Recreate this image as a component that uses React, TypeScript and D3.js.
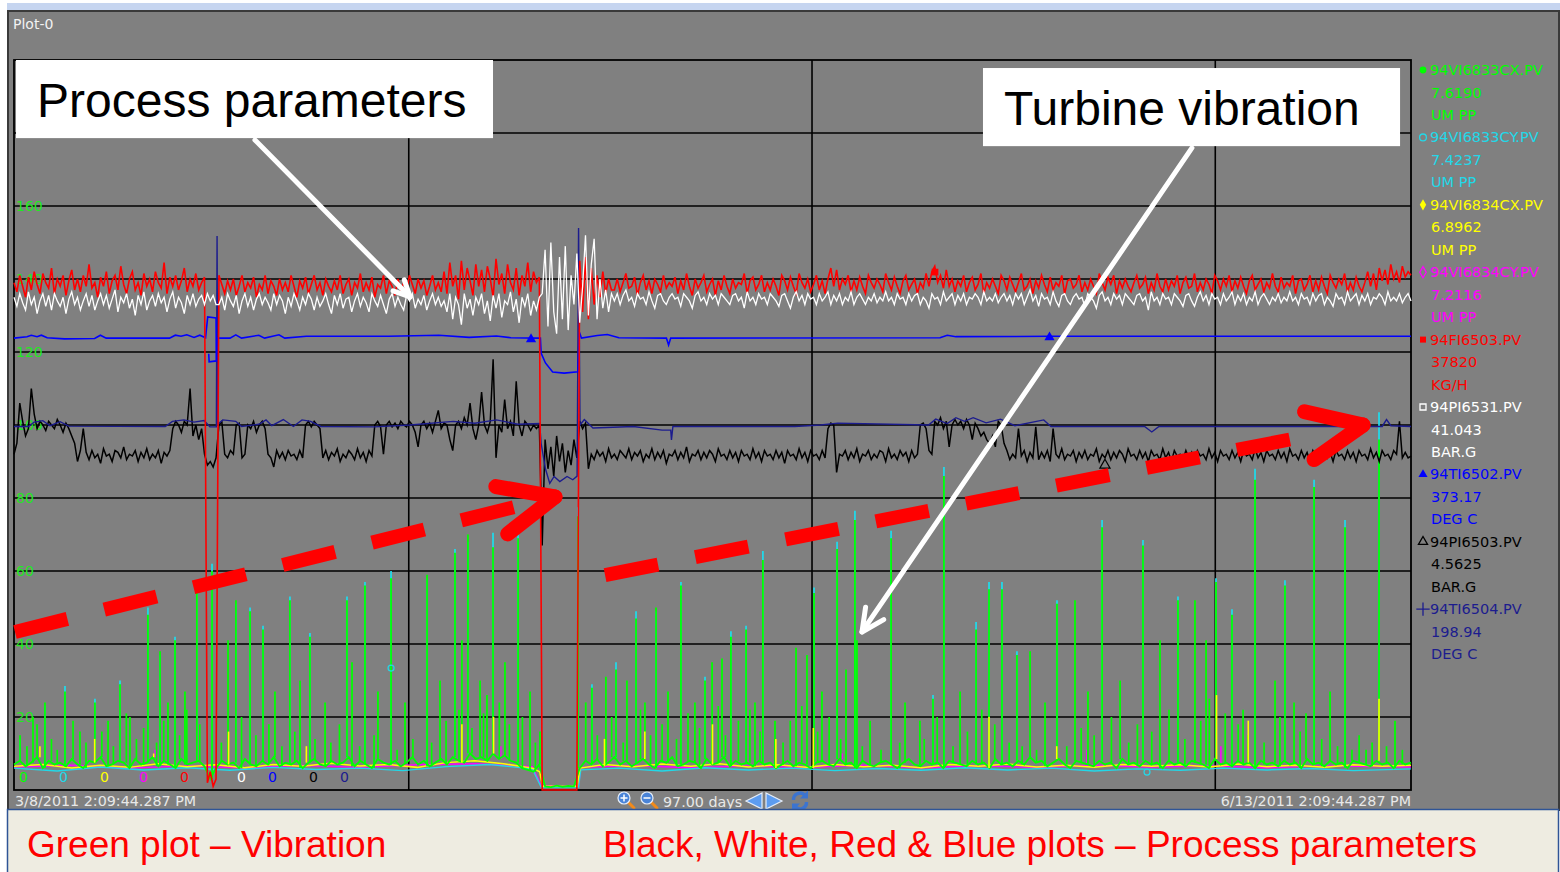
import React from 'react';
import * as d3 from 'd3';

// trend window (97 days)
const startTime = Date.UTC(2011, 2, 8, 14, 9, 44, 287);
const endTime = Date.UTC(2011, 5, 13, 14, 9, 44, 287);
const DAY_MS = 864e5;
const spanDays = (endTime - startTime) / DAY_MS;

const gridDates = [Date.UTC(2011, 3, 5), Date.UTC(2011, 4, 3), Date.UTC(2011, 4, 31)];
const yTicks = [20, 40, 60, 80, 100, 120, 140, 160, 180];

// legend
const tagNames = ['94VI6833CX.PV', '94VI6833CY.PV', '94VI6834CX.PV', '94VI6834CY.PV', '94FI6503.PV', '94PI6531.PV', '94TI6502.PV', '94PI6503.PV', '94TI6504.PV'];
const tagValues = ['7.6190', '7.4237', '6.8962', '7.2116', '37820', '41.043', '373.17', '4.5625', '198.94'];
const tagUnits = ['UM PP', 'UM PP', 'UM PP', 'UM PP', 'KG/H', 'BAR.G', 'DEG C', 'BAR.G', 'DEG C'];
const tagMins = ['0', '0', '0', '0', '0', '0', '0', '0', '0'];

// process parameters, evenly sampled over the window (axis units)
const flow = [
  139, 136.5, 141, 138, 135, 140.5, 137, 142, 138.5, 136, 141.5, 139, 137.5, 143, 136, 140, 138, 141, 135.5, 139.5,
  142.5, 137, 140, 136.5, 141, 138, 144, 137.5, 139, 135, 140.5, 138, 142, 136, 139.5, 141, 137, 143.5, 138.5, 136,
  140, 142, 137, 139, 135.5, 141.5, 138, 140, 136.5, 142, 139, 137.5, 144.5, 136, 140.5, 138, 141, 137, 139.5, 143,
  136.5, 140, 138, 141.5, 137, 139, 140.5,
  2, 5, 1, 3,
  141, 138.5, 136, 139.5, 137, 140, 135.5, 138, 141, 136.5, 139, 137.5, 140.5, 135, 138.5, 137, 141, 136, 139.5, 138,
  135.5, 140, 137, 139, 136.5, 141, 138, 135, 139.5, 137.5, 140.5, 136, 138.5, 141, 137, 139, 135.5, 140, 138, 136.5,
  139.5, 137, 141, 136, 138.5, 140, 135.5, 139, 137.5, 141.5, 136.5, 139, 137, 140.5, 135, 138.5, 137.5, 141, 136, 139.5,
  138, 135.5, 140, 137, 139, 136.5, 141, 138.5, 136, 140, 137.5, 139.5, 135.5, 138, 141, 137, 139, 136.5,
  142, 136, 144.5, 138, 141, 134.5, 145, 137, 143, 139.5, 135.5, 144, 138, 142.5, 136.5, 143.5, 140, 135, 145.5, 138.5,
  141.5, 136, 144, 139, 137, 143, 135.5, 141, 138, 144.5, 136.5, 142, 139, 140.5,
  0, 0, 0, 0, 0, 0, 0, 0, 0, 0, 0, 0, 0,
  145, 131, 146, 129, 143, 133, 141, 135, 142, 136, 140, 137,
  137, 140, 136.5, 139, 141.5, 137.5, 138, 140.5, 135.5, 139, 141, 137, 139.5, 136, 140, 138.5, 136.5, 141, 137.5, 139,
  138, 140.5, 136, 139.5, 137, 141.5, 138, 135.5, 140, 137.5, 139, 141, 136.5, 138.5, 140, 135.5, 139.5, 137, 141, 138,
  136, 140, 137.5, 139, 138.5, 141.5, 136, 139.5, 140.5, 137, 138.5, 141, 136.5, 139, 137, 140, 138, 135.5, 141, 139.5,
  137, 140.5, 138, 136, 141.5, 139, 137.5, 140, 136.5, 138.5, 141, 137, 139.5, 136, 140, 143, 138, 142.5, 137, 140,
  138.5, 141, 136.5, 139.5, 137, 140.5, 138, 136, 141, 139, 137.5, 140, 138.5, 136.5, 141.5, 139, 137, 140.5, 138, 136,
  139.5, 141, 137, 138.5, 140, 136, 139, 137.5, 141.5, 138, 142, 143.5, 139, 141, 137.5, 142.5, 138, 140, 136.5, 139.5,
  138, 141, 136.5, 139, 140.5, 137, 138.5, 141.5, 136, 139, 137.5, 140, 138, 136, 141, 139.5, 137, 140.5, 138.5, 136.5,
  139, 141.5, 137, 138, 140, 136, 139.5, 137.5, 141, 138.5, 136.5, 140.5, 137, 139, 138, 141, 136, 139.5, 140, 137.5,
  138.5, 141, 136.5, 139, 137, 140, 138, 136, 141.5, 139, 137, 140.5, 138.5, 141, 136, 139.5, 137.5, 140, 138, 136.5,
  139, 141, 137.5, 138.5, 140.5, 136, 139, 137, 141.5, 138, 136.5, 140, 137, 139.5, 138, 141, 136, 139, 140.5, 137.5,
  138, 141.5, 136.5, 139, 137, 140, 138.5, 136, 141, 139.5, 137, 140, 138, 141, 136.5, 139.5, 137.5, 140.5, 138, 136,
  139.5, 141, 137, 138.5, 140, 136.5, 139, 137.5, 141.5, 138, 136.5, 140.5, 137.5, 139, 138, 141, 136, 139.5, 140, 137,
  138.5, 141, 136.5, 139.5, 137, 140.5, 138, 136, 141, 139, 137.5, 140, 138.5, 141.5, 136.5, 139, 137, 140.5, 138, 136.5,
  139, 142, 138, 141.5, 137, 143, 139.5, 142.5, 138.5, 144, 140, 142, 139, 143.5, 140.5, 142, 141,
];

const steamPress = [
  135, 132.5, 136, 133.5, 131.5, 136.5, 133, 135, 130.5, 134, 136, 132.5, 135.5, 131.5, 136, 134, 132.5, 135, 130.5, 134.5,
  136.5, 133, 135, 131.5, 134, 136, 132.5, 135.5, 131.5, 134, 136, 133, 135.5, 132, 134.5, 137, 131, 135, 133.5, 136,
  132, 134.5, 130, 135.5, 133, 136.5, 131.5, 134, 135.5, 132.5, 136, 133.5, 135, 131, 134.5, 136.5, 132, 135, 133.5, 130.5,
  135.5, 133, 136, 132.5, 134.5, 135.5, 133,
  136, 134, 135.5, 133,
  133, 135, 131.5, 136, 134, 132.5, 135.5, 130.5, 134, 136, 132.5, 135, 131.5, 134.5, 136, 133, 135, 133.5, 131.5, 136,
  133, 135.5, 134, 130.5, 135, 132.5, 136, 134, 131.5, 135, 133, 136, 134.5, 131.5, 135, 132.5, 134, 136, 133, 130.5,
  135.5, 133, 136, 132, 134.5, 135, 131, 134, 136, 132.5, 135, 133.5, 131, 136, 134, 132.5, 135.5, 133, 130.5, 134.5,
  136, 132.5, 135, 133, 131.5, 135.5, 134, 136, 132, 134.5, 133, 135.5, 131.5, 134, 136, 133, 135, 132.5,
  134, 131, 136, 129, 135, 133, 127.5, 136, 132, 134.5, 130, 135, 133, 136, 130.5, 134, 128.5, 135.5, 132, 136,
  129.5, 134, 133, 136.5, 131, 134.5, 128, 135, 132.5, 136, 130, 134, 131.5, 135,
  136, 148, 127, 150, 131, 125, 146, 129, 149, 126, 141, 133, 147, 128, 138, 152, 130, 144, 151, 129,
  140, 132, 137, 131, 136,
  134, 136, 133, 135.5, 137, 134, 135, 132.5, 136, 134.5, 135, 133, 136.5, 134, 132, 135.5, 136, 134, 133, 135,
  136, 134.5, 135, 132.5, 136, 135, 134, 132, 135.5, 136.5, 134, 135, 133, 136, 134.5, 135.5, 133, 136, 135, 134,
  133, 135.5, 136, 134, 135, 132, 136.5, 134, 135, 133, 136, 134.5, 135, 133, 136, 135, 134, 132.5, 135.5, 136,
  134, 132, 135, 136.5, 134, 135.5, 133, 136, 134.5, 135, 133, 136, 134, 135, 136.5, 133, 135.5, 134, 136, 133,
  135, 134, 136.5, 133, 135, 136, 134.5, 133, 135, 134, 136, 133.5, 135, 134, 136.5, 134, 135, 133, 136, 134.5,
  135, 133, 136, 134, 135.5, 136, 133, 135, 134, 132, 136, 134.5, 135, 133, 136.5, 134, 135, 136, 133, 135.5,
  134, 136, 133, 135, 134.5, 136, 135, 133, 136.5, 134, 135, 134, 136, 133.5, 135, 136, 134, 135.5, 133, 136,
  134.5, 136, 133, 135, 137, 134, 135.5, 132.5, 136, 134.5, 135, 133, 136.5, 134, 132.5, 135.5, 136, 134, 133, 135,
  136, 134.5, 135, 132.5, 136, 135, 134, 132, 135.5, 136.5, 134, 135, 133, 136, 134.5, 135.5, 133, 136, 135, 134,
  133, 135.5, 136, 134, 135, 131.5, 136.5, 134, 135, 133, 136, 134.5, 135, 133, 136, 135, 134, 132.5, 135.5, 136,
  134, 132.5, 135, 136.5, 134, 135.5, 133, 136, 134.5, 135, 133, 136, 134, 135, 136.5, 133, 135.5, 134, 136, 133,
  135, 134, 136.5, 133, 135, 136, 134.5, 133, 135, 134, 136, 133.5, 135, 134, 136.5, 134, 135, 133, 136, 134.5,
  135, 133, 136, 134, 135.5, 136, 133, 135, 134, 132.5, 136, 134.5, 135, 133, 136.5, 134, 135, 136, 133, 135.5,
  134, 136, 133, 135, 134.5, 136, 135, 133, 136.5, 134, 135, 134, 136, 133.5, 135, 136, 134,
];

const exhaustPress = [
  92, 95, 106, 101, 97, 99, 110, 103,
  99, 101, 100, 98.5, 101, 100, 99, 101.5, 100, 98, 100.5, 99, 97,
  95, 90, 93, 99,
  92.5, 90.5, 93, 91, 92, 89.5, 93.5, 91.5, 92, 90, 93, 92.5, 91, 94, 90.5, 92, 91.5, 93, 90, 92.5,
  91, 93.5, 90.5, 92, 91, 93, 89.5, 92.5, 91.5, 93,
  99, 101, 100, 98, 101, 100, 110, 97, 100, 96, 99,
  92, 89, 90, 88.5, 91,
  100, 101, 92, 91, 93, 92, 100, 100.5, 91, 92,
  100, 99, 101, 98, 100, 101, 99,
  92, 91, 88.5, 93, 91, 92.5, 90.5, 93, 91.5, 92, 90.5, 93, 91,
  100, 101, 99.5, 101, 100, 99,
  91, 93, 90.5, 92.5, 91.5, 93.5, 90, 92, 91, 93, 92, 90.5, 93.5, 91, 92.5, 90, 93, 91.5,
  100, 101, 99.5, 92, 100, 101, 99.5,
  100.5, 99, 101, 100, 99.5, 101, 100, 98, 94, 100, 101, 99, 100.5, 98, 101, 104, 99, 100.5, 100, 96,
  93, 100, 101, 99, 102, 100, 106, 99, 96, 100, 109, 100, 98, 101, 118, 91, 100, 98, 107, 99,
  101, 97, 112, 100, 97, 101, 100, 98.5, 100, 99, 100,
  67, 96, 88, 94, 86, 97, 90, 95, 87, 93, 89, 96, 91,
  101, 99, 100.5, 88,
  92, 90.5, 93, 91.5, 92.5, 90, 93.5, 91, 92, 90.5, 93, 92, 91, 93.5, 90.5, 92.5, 91.5, 93, 90, 92,
  91, 93.5, 90.5, 92.5, 91, 93, 89.5, 92, 91.5, 93, 90.5, 92.5, 91, 94, 90, 92, 91.5, 93, 90.5, 92.5,
  91, 93, 92, 90, 93.5, 91.5, 92, 90.5, 93, 91, 92.5, 90, 93, 91.5, 92, 90.5, 93.5, 91, 92.5, 90,
  93, 91.5, 92, 90.5, 93, 91, 92.5, 89.5, 93, 91.5, 92, 90.5, 93.5, 91, 92.5, 90, 93, 91.5, 92, 90.5,
  93, 91,
  99, 100.5, 100, 87, 92,
  91.5, 93, 90.5, 92.5, 91, 93.5, 90, 92, 91.5, 93, 90.5, 92, 91, 93, 92.5, 90, 93.5, 91, 92, 90.5,
  93, 91.5, 92.5, 90, 93, 91, 92,
  100, 100.5, 99, 93, 92,
  101, 100, 102, 99, 101, 94, 100, 101.5, 100, 101, 99, 101.5, 100, 96, 100.5,
  99, 97, 98, 96, 95, 97, 94, 101, 100, 95,
  93, 90.5, 92, 91, 99, 91.5, 93, 90, 92.5, 91, 99.5, 90.5, 92.5, 91, 93, 90, 99, 92, 91, 93.5,
  90.5, 92, 91.5, 93, 90, 92.5, 91, 93, 90.5, 92, 91.5, 93.5, 90, 92, 91, 93, 90.5, 92.5, 91, 93,
  92, 90, 93.5, 91.5, 92, 90.5, 93, 91, 92.5, 90, 93, 91.5, 92, 90.5, 93.5, 91, 92.5, 90, 93, 91.5,
  92, 90.5, 93, 91, 92.5, 89.5, 93, 91.5, 92, 90.5, 93.5, 91, 92.5, 90, 93, 91.5, 92, 90.5, 93, 91,
  92.5, 90, 93, 91.5, 92, 90.5, 93.5, 91, 92.5, 90, 93, 91.5, 92, 90.5, 93, 91, 92.5, 90, 93.5, 91.5,
  92, 90.5, 93, 91, 92.5, 90, 93, 91.5, 92, 90.5, 93.5, 91, 92.5, 90, 93, 91.5, 92, 90.5, 93, 91,
  92.5, 90, 93, 91.5, 92, 90.5, 93.5, 91, 92.5, 90, 93, 91.5, 92, 90.5, 93, 92, 101, 91, 92.5, 91,
  91.5,
];

// temperatures as [day, value] break points
const steamTemp: [number, number][] = [
  [0, 123.8], [0.9, 124.2], [1.2, 124.6], [1.6, 124.2], [1.9, 124.6], [2.3, 123.9], [3.5, 123.6], [5.6, 123.7],
  [6.0, 124.6], [6.4, 123.8], [10.8, 123.8], [11.2, 124.6], [11.6, 124.3], [12.0, 124.7], [12.5, 124.0],
  [12.9, 124.6], [13.3, 123.9], [13.45, 129.6], [14.03, 129.3], [14.05, 117.6], [13.55, 117.3], [13.52, 119.5],
  [13.55, 117.3], [14.06, 117.5], [14.1, 123.8], [15.0, 123.8], [15.4, 124.7], [15.8, 123.8], [17.0, 124.6],
  [17.4, 123.8], [18.4, 124.7], [18.8, 123.8], [20.3, 124.3], [26, 124.3], [29.5, 124.6], [31.6, 124.0],
  [33.5, 124.4], [34.5, 123.9], [36.55, 123.8], [36.6, 119.7], [36.9, 117.0], [37.4, 114.5], [38.2, 114.2],
  [39.15, 114.6], [39.25, 125.5], [39.4, 123.8], [40.5, 124.5], [41.2, 124.8], [42, 123.9], [45.3, 123.8],
  [45.45, 121.9], [45.6, 123.8], [64.3, 123.9], [64.8, 124.6], [65.4, 124.2], [72, 124.3], [97, 124.3],
];

const exhaustTemp: [number, number][] = [
  [0, 99.6], [1.0, 99.6], [1.4, 100.8], [2.0, 101.2], [2.5, 99.8], [3.2, 100.9], [3.8, 99.7], [10.5, 99.6],
  [11.0, 101.0], [11.8, 101.4], [12.5, 100.8], [13.2, 101.2], [13.6, 99.5], [14.05, 99.5], [14.1, 151.8],
  [14.15, 100.2], [14.5, 101.4], [15.4, 101.0], [15.8, 99.6], [17.0, 100.2], [17.5, 101.4], [17.9, 99.8],
  [18.7, 101.5], [19.4, 99.6], [20.0, 101.4], [20.6, 101.0], [21.3, 99.6], [25, 99.5], [27.5, 100.0],
  [30.5, 101.0], [32.0, 100.5], [33.5, 101.4], [35.0, 100.2], [36.5, 100.4], [36.6, 95.0], [36.9, 88.0],
  [37.2, 84.0], [37.5, 85.9], [37.9, 84.5], [38.4, 85.9], [38.8, 85.0], [39.1, 86.0], [39.2, 154.0],
  [39.3, 100.0], [39.6, 101.5], [40.2, 99.2], [43.0, 99.6], [45.0, 98.6], [45.6, 98.6], [45.65, 95.9],
  [45.75, 99.6], [54.2, 99.6], [56.0, 100.0], [57.2, 100.5], [63.5, 100.0], [64.0, 101.6], [64.8, 100.4],
  [65.4, 102.0], [66.0, 101.0], [66.6, 102.0], [67.5, 100.6], [68.5, 101.6], [69.5, 99.8], [71.5, 101.4],
  [72, 99.6], [78.5, 99.6], [79.0, 98.1], [79.5, 99.6], [95.0, 99.6], [95.3, 101.5], [95.6, 99.8], [97, 99.6],
];

// vibration (um pp), green channel sampled evenly
const vibCX = [
  7, 8, 6.5, 7.5, 9, 6, 8, 7, 7.5, 6.5, 8.5, 7, 6, 8, 7.5, 9, 6.5, 7, 8, 7.5,
  6, 8.5, 7, 7.5, 9, 6.5, 8, 7, 6, 8.5, 7, 7.5, 8, 6.5, 3, 6, 8, 7, 7.5, 6,
  8.5, 7, 6.5, 8, 7, 9, 6.5, 7.5, 7, 8, 6, 7.5, 8.5, 7, 6.5, 8, 7, 7.5, 9, 6.5,
  8, 7, 6, 8.5, 7.5, 7, 8, 6.5, 7.5, 9, 7, 8, 6.5, 7.5, 8.5, 7, 9, 8, 7.5, 10,
  8.5, 9, 8, 10, 8.5, 9.5, 8, 7.5, 6, 5.5, 5, 7,
  1, 0.8, 1.2, 0.9, 1.1, 1,
  6, 8, 7, 8.5, 6.5, 7.5, 9, 7, 8, 6.5, 7.5, 8.5, 7, 6, 8, 7.5, 9, 6.5, 7, 8,
  7.5, 6, 8.5, 7, 7.5, 9, 6.5, 8, 7, 7.5, 6.5, 8, 7, 7.5, 6, 7, 8, 6.5, 7.5, 7,
  6, 7.5, 8, 7, 6.5, 8.5, 7, 7.5, 6, 8, 7, 6.5, 7.5, 8, 7, 6, 7.5, 8.5, 7, 6.5,
  8, 7, 7.5, 6, 8, 7.5, 7, 6.5, 8, 7, 7.5, 6, 8.5, 7, 7.5, 6.5, 8, 7, 9, 7.5,
  8, 6.5, 7.5, 8.5, 7, 6, 8, 7.5, 7, 6.5, 8, 7, 7.5, 6, 8.5, 7, 7.5, 6.5, 8, 7,
  7.5, 6, 8, 7, 7.5, 6.5, 8, 7.5, 7, 6, 8.5, 7, 7.5, 6.5, 8, 7, 7.5, 6, 8, 7,
  7.5, 6.5, 8, 7, 7.5, 6, 8.5, 7, 7.5, 6.5, 8, 7, 7.5, 6, 8, 7.5, 7, 6.5, 8, 7,
  7.5, 6, 8, 7, 7.5,
];

const vibCXYBase: [number, number][] = [
  [0, 6.5], [2, 7], [4, 6], [6, 6.8], [8, 6.2], [10, 7.2], [12, 6.4], [14, 6.9], [16, 6.1], [18, 7],
  [20, 6.5], [22, 7.3], [24, 6.6], [26, 7], [28, 6.2], [30, 7.5], [32, 8], [34, 7.2], [36, 6], [36.5, 5],
  [36.7, 1], [39.1, 1], [39.3, 6], [41, 7], [43, 6.4], [45, 7.1], [47, 6.5], [49, 7.2], [51, 6.3], [53, 6.9],
  [55, 6.2], [57, 7], [59, 6.4], [61, 6.8], [63, 6.1], [65, 7], [67, 6.5], [69, 7.1], [71, 6.3], [73, 6.8],
  [75, 6.2], [77, 7], [79, 6.5], [81, 6.9], [83, 6.3], [85, 7.1], [87, 6.4], [89, 6.8], [91, 6.2], [93, 6.9],
  [95, 6.5], [97, 6.8],
];
const vibCYBase: [number, number][] = [
  [0, 6], [3, 5.2], [6, 6.3], [9, 5.5], [12, 6.1], [15, 5.4], [18, 6.2], [21, 5.6], [24, 6], [27, 5.3],
  [30, 6.4], [33, 7], [36, 5.8], [36.6, 0.8], [39.2, 0.8], [39.35, 5.5], [42, 6], [45, 5.2], [48, 6.1],
  [51, 5.5], [54, 6], [57, 5.3], [60, 5.9], [63, 5.4], [66, 6.1], [69, 5.5], [72, 6], [75, 5.2], [78, 5.8],
  [81, 5.4], [84, 6], [87, 5.5], [90, 5.9], [93, 5.3], [97, 5.8],
];
const vibDYBase: [number, number][] = [
  [0, 6.3], [4, 6.8], [8, 6], [12, 6.6], [16, 6.1], [20, 6.7], [24, 6.2], [28, 6.9], [32, 7.2], [36, 6.4],
  [36.6, 1.2], [39.2, 1.2], [39.35, 6.2], [43, 6.7], [47, 6.1], [51, 6.6], [55, 6.2], [59, 6.8], [63, 6.1],
  [67, 6.6], [71, 6.2], [75, 6.8], [79, 6.3], [83, 6.6], [87, 6.1], [91, 6.6], [97, 6.3],
];

// vibration spikes: [day, green peak, cyan peak (0 = none)]
const vibPeaks: [number, number, number][] = [
  [0.42, 15, 14], [1.32, 20, 0], [2.15, 24, 23], [3.54, 27, 28.5], [4.58, 16, 0], [5.62, 24, 25], [6.53, 19, 0],
  [7.36, 29, 30], [8.05, 20, 0], [9.3, 48, 50], [10.14, 38, 37], [10.69, 24, 0], [11.18, 41, 42], [11.87, 27, 0],
  [12.7, 55, 54], [13.75, 60, 62], [14.86, 41, 0], [15.41, 52, 51], [16.39, 49, 50], [17.29, 44, 45], [18.12, 27, 0],
  [19.16, 52, 53], [19.86, 30, 0], [20.55, 42, 43], [21.6, 24, 0], [23.12, 52, 53], [23.47, 35, 0], [24.37, 56, 57],
  [25.27, 27, 0], [26.18, 58, 60], [27.15, 24, 0], [28.68, 59, 58], [29.58, 30, 0], [30.62, 65, 66], [31.1, 41, 0],
  [31.52, 70, 68], [32.36, 30, 0], [32.84, 26, 0], [33.26, 66.5, 70.5], [34.09, 35, 0], [35.0, 69, 70], [35.83, 27, 0],
  [36.52, 16, 0], [39.16, 75, 77.5], [39.7, 24, 0], [40.13, 28, 29], [41.1, 31, 0], [41.8, 33, 35], [42.56, 30, 0],
  [43.19, 47, 49], [43.81, 24, 0], [44.58, 50, 49], [45.41, 27, 0], [46.31, 56, 57], [47.28, 24, 0], [47.98, 30, 31],
  [48.47, 35, 0], [49.16, 36, 0], [49.78, 42, 43.5], [50.83, 44, 45], [51.45, 24, 0], [52.0, 63, 65.5], [52.84, 19, 0],
  [54.3, 39, 0], [55.06, 37, 0], [55.55, 54, 55.5], [56.1, 27, 0], [57.15, 66, 68], [57.77, 33, 0], [58.39, 74, 76.5],
  [58.53, 41, 0], [59.44, 19, 0], [60.9, 69, 71], [61.87, 24, 0], [62.9, 19, 0], [63.81, 25, 26], [64.57, 86, 88.5],
  [65.69, 27, 0], [66.8, 44, 46], [67.7, 55, 57], [68.6, 55, 57], [69.64, 37, 38], [70.55, 38, 0], [71.59, 24, 0],
  [72.42, 51, 52], [73.67, 52, 0], [74.57, 27, 0], [75.55, 72, 74], [76.8, 30, 0], [78.39, 67, 68.5], [79.57, 41, 0],
  [80.82, 52, 53], [82.0, 52, 0], [82.77, 41, 0], [83.46, 57, 58], [84.57, 48, 49.5], [85.34, 22, 0], [85.68, 15, 0],
  [86.17, 85, 88], [87.56, 30, 0], [88.25, 56, 57.5], [88.88, 24, 0], [89.71, 21, 0], [90.27, 83, 85], [91.38, 27, 0],
  [92.42, 72, 74], [93.88, 11, 0], [94.78, 96, 103.5], [95.89, 19, 0],
];

const vibSmallPeaks: [number, number][] = [
  [0.9, 12], [1.6, 18], [2.6, 14], [3.0, 11], [4.1, 19], [5.0, 13], [6.1, 16], [6.9, 12], [7.8, 21], [8.5, 14],
  [9.0, 17], [9.9, 13], [10.4, 19], [11.5, 15], [12.0, 22], [12.9, 18], [14.4, 13], [15.8, 20], [16.8, 15], [17.7, 18],
  [18.6, 12], [19.5, 16], [20.9, 14], [22.0, 13], [22.6, 18], [24.0, 12], [25.0, 15], [26.6, 11], [27.7, 14], [29.0, 13],
  [30.0, 19], [30.9, 22], [31.8, 17], [32.6, 21], [33.7, 24], [34.4, 18], [35.3, 20], [36.2, 13], [40.5, 15], [41.5, 20],
  [42.3, 13], [43.5, 22], [44.2, 15], [45.0, 18], [46.0, 14], [46.8, 21], [47.6, 17], [48.9, 23], [49.4, 15], [50.3, 19],
  [51.1, 22], [51.8, 16], [53.4, 13], [53.9, 19], [54.7, 23], [55.8, 16], [56.6, 20], [57.4, 14], [58.9, 12], [60.2, 11],
  [61.5, 13], [63.2, 14], [64.1, 20], [65.2, 12], [66.2, 16], [67.2, 22], [68.1, 18], [69.1, 13], [70.0, 12], [71.0, 11],
  [73.1, 12], [74.1, 17], [75.0, 15], [76.2, 20], [77.4, 13], [78.0, 18], [79.0, 16], [80.2, 22], [81.3, 14], [82.4, 19],
  [83.0, 25], [84.1, 21], [85.0, 18], [86.8, 13], [87.9, 20], [89.3, 16], [90.8, 14], [91.9, 12], [92.9, 11], [93.4, 15],
  [94.3, 13], [95.3, 12], [96.4, 11],
];
const vibYellowPeaks: [number, number][] = [
  [1.8, 12], [5.6, 14], [9.7, 10], [14.9, 16], [20.3, 12], [31.1, 18], [33.3, 20], [41.0, 14], [43.8, 16],
  [48.5, 18], [52.9, 14], [55.5, 17], [67.7, 20], [72.4, 12], [83.5, 26], [85.7, 19], [94.78, 25],
];
const vibMagentaPeaks: [number, number][] = [
  [9.8, 11], [23.5, 13], [33.8, 12], [57.5, 10], [74.5, 11], [83.8, 12], [90.3, 11],
];

// trace markers: [day, value]
const steamTempMarks: [number, number][] = [[35.9, 123.5], [71.9, 124.0]];
const exhaustPressMarks: [number, number][] = [[75.75, 89]];
const cyMarks: [number, number][] = [[26.18, 33.4], [78.67, 4.9]];
const flowMarks: [number, number][] = [[63.95, 141.9]];

// call-outs in chart coordinates: [day, value]
const calloutText = ['Process parameters', 'Turbine vibration'];
const calloutBox: [number, number, number, number][] = [[0.14, 200, 33.26, 178.6], [67.28, 197.8, 96.24, 176.4]];
const whiteArrows: [number, number, number, number][] = [[16.73, 178.1, 27.5, 135.1], [81.79, 175.9, 58.88, 43.3]];
const redArrows: [number, number, number, number][] = [[0.07, 43.3, 37.56, 80.3], [41.04, 58.9, 93.67, 100]];

const colors = ['#00ff00', '#22d8e8', '#ffff00', '#ff00ff', '#ff0000', '#ffffff', '#0000ff', '#000000', '#1c1c8e'];
const UI_FONT = '"DejaVu Sans", Verdana, sans-serif';
const ARIAL = '"Liberation Sans", Arial, sans-serif';

const W = 1560;
const H = 872;
const plot = { left: 14, right: 1411, top: 60, bottom: 790 };

const armPoints = (fx: number, fy: number, tx: number, ty: number, len: number, deg: number) => {
  const a = Math.atan2(fy - ty, fx - tx);
  const r = (deg * Math.PI) / 180;
  return [a - r, a + r].map(t => [tx + len * Math.cos(t), ty + len * Math.sin(t)]);
};

const App: React.FC = () => {
  const x = d3.scaleLinear().domain([0, spanDays]).range([plot.left, plot.right]);
  const y = d3.scaleLinear().domain([0, 200]).range([plot.bottom, plot.top]);

  const even = (vals: number[]) =>
    d3.line<number>()
      .x((_, i) => x((i * spanDays) / (vals.length - 1)))
      .y(v => y(v))(vals) || '';
  const pts = (vals: [number, number][]) =>
    d3.line<[number, number]>().x(d => x(d[0])).y(d => y(d[1]))(vals) || '';
  const baseAt = (day: number) => vibCX[Math.round((day / spanDays) * (vibCX.length - 1))];

  const fmtDate = d3.utcFormat('%-m/%-d/%Y %-I:%M:%S.%L %p');
  const symbolTypes = [d3.symbolCircle, d3.symbolCircle, d3.symbolDiamond, d3.symbolDiamond, d3.symbolSquare, d3.symbolSquare, d3.symbolTriangle, d3.symbolTriangle, d3.symbolPlus];
  const filled = [true, false, true, false, true, false, true, false, false];
  const zeroLabelX = [5, 45, 86, 125, 166, 223, 254, 295, 326];

  return (
    <svg width={W} height={H} style={{ position: 'absolute', left: 0, top: 0, display: 'block' }}>
      <rect x={0} y={0} width={W} height={H} fill="#ffffff" />
      <rect x={7} y={3} width={W - 7} height={8} fill="#c6d5f0" />
      <rect x={8} y={11} width={W - 9} height={799} fill="#808080" stroke="#3a3a3a" strokeWidth={2} />
      <text x={13} y={29} fontFamily={UI_FONT} fontSize={14} fill="#f2f2f2">Plot-0</text>

      {/* grid */}
      {yTicks.map(t => (
        <line key={t} x1={plot.left} x2={plot.right} y1={y(t)} y2={y(t)} stroke="#000" strokeWidth={1.6} />
      ))}
      {gridDates.map(d => {
        const gx = x((d - startTime) / DAY_MS);
        return <line key={d} x1={gx} x2={gx} y1={plot.top} y2={plot.bottom} stroke="#000" strokeWidth={1.6} />;
      })}
      <rect x={plot.left} y={plot.top} width={plot.right - plot.left} height={plot.bottom - plot.top} fill="none" stroke="#000" strokeWidth={1.8} />
      {yTicks.map(t => (
        <text key={t} x={plot.left + 2} y={y(t) + 5} fontFamily={UI_FONT} fontSize={14} fill="#22e822">{t}</text>
      ))}
      {tagMins.map((m, i) => (
        <text key={i} x={plot.left + zeroLabelX[i]} y={782} fontFamily={UI_FONT} fontSize={14} fill={colors[i]}>{m}</text>
      ))}

      {/* vibration */}
      <path d={pts(vibDYBase)} fill="none" stroke={colors[3]} strokeWidth={1.4} />
      <path d={pts(vibCYBase)} fill="none" stroke={colors[1]} strokeWidth={1.4} />
      <path d={pts(vibCXYBase)} fill="none" stroke={colors[2]} strokeWidth={1.5} />
      {vibMagentaPeaks.map(([d, v], i) => (
        <line key={i} x1={x(d)} x2={x(d)} y1={y(baseAt(d))} y2={y(v)} stroke={colors[3]} strokeWidth={1.5} />
      ))}
      {vibPeaks.filter(p => p[2] > 0).map(([d, , c], i) => (
        <line key={i} x1={x(d)} x2={x(d)} y1={y(baseAt(d))} y2={y(c)} stroke={colors[1]} strokeWidth={1.8} />
      ))}
      <path d={even(vibCX)} fill="none" stroke={colors[0]} strokeWidth={1.8} />
      {vibSmallPeaks.map(([d, v], i) => (
        <line key={i} x1={x(d)} x2={x(d)} y1={y(baseAt(d))} y2={y(v)} stroke={colors[0]} strokeWidth={1.7} />
      ))}
      {vibPeaks.map(([d, g], i) => (
        <line key={i} x1={x(d)} x2={x(d)} y1={y(baseAt(d))} y2={y(g)} stroke={colors[0]} strokeWidth={1.8} />
      ))}
      {vibYellowPeaks.map(([d, v], i) => (
        <line key={i} x1={x(d)} x2={x(d)} y1={y(baseAt(d))} y2={y(v)} stroke={colors[2]} strokeWidth={1.6} />
      ))}
      {cyMarks.map(([d, v], i) => (
        <circle key={i} cx={x(d)} cy={y(v)} r={3} fill="none" stroke={colors[1]} strokeWidth={1.2} />
      ))}

      {/* process parameters */}
      <path d={even(exhaustPress)} fill="none" stroke={colors[7]} strokeWidth={1.5} />
      <path d={pts(exhaustTemp)} fill="none" stroke={colors[8]} strokeWidth={1.4} />
      <path d={pts(steamTemp)} fill="none" stroke={colors[6]} strokeWidth={1.6} />
      <path d={even(flow)} fill="none" stroke={colors[4]} strokeWidth={1.6} />
      <path d={even(steamPress)} fill="none" stroke={colors[5]} strokeWidth={1.3} />
      {steamTempMarks.map(([d, v], i) => (
        <path key={i} transform={`translate(${x(d)},${y(v)})`} d={d3.symbol(d3.symbolTriangle, 45)() || ''} fill={colors[6]} />
      ))}
      {exhaustPressMarks.map(([d, v], i) => (
        <path key={i} transform={`translate(${x(d)},${y(v)})`} d={d3.symbol(d3.symbolTriangle, 45)() || ''} fill="none" stroke="#000" strokeWidth={1.2} />
      ))}
      {flowMarks.map(([d, v], i) => (
        <path key={i} transform={`translate(${x(d)},${y(v)})`} d={d3.symbol(d3.symbolSquare, 45)() || ''} fill={colors[4]} />
      ))}

      {/* legend */}
      {tagNames.map((name, i) => {
        const ly = 70 + i * 67.4;
        const sym = d3.symbol(symbolTypes[i], i === 8 ? 60 : 36)() || '';
        return (
          <g key={name} fontFamily={UI_FONT} fontSize={14.5} fill={colors[i]}>
            <path transform={`translate(1423,${ly})`} d={sym} fill={filled[i] ? colors[i] : 'none'} stroke={filled[i] ? 'none' : colors[i]} strokeWidth={1.3} />
            <text x={1430} y={ly + 5}>{name}</text>
            <text x={1431} y={ly + 27.5}>{tagValues[i]}</text>
            <text x={1431} y={ly + 50}>{tagUnits[i]}</text>
          </g>
        );
      })}

      {/* time bar */}
      <g fontFamily={UI_FONT} fontSize={14.3} fill="#e8e8e8">
        <text x={plot.left + 1} y={806}>{fmtDate(new Date(startTime))}</text>
        <text x={plot.right} y={806} textAnchor="end">{fmtDate(new Date(endTime))}</text>
        <text x={663} y={807}>{`${d3.format('.2f')(spanDays)} days`}</text>
      </g>
      <g>
        <line x1={628} y1={802} x2={634} y2={808} stroke="#f28a1a" strokeWidth={3} strokeLinecap="round" />
        <circle cx={624} cy={798} r={6} fill="#4a84d8" stroke="#e6eef9" strokeWidth={1.2} />
        <path d="M620.5 798h7M624 794.5v7" stroke="#fff" strokeWidth={1.5} />
        <line x1={651} y1={802} x2={657} y2={808} stroke="#f28a1a" strokeWidth={3} strokeLinecap="round" />
        <circle cx={647} cy={798} r={6} fill="#4a84d8" stroke="#e6eef9" strokeWidth={1.2} />
        <path d="M643.5 798h7" stroke="#fff" strokeWidth={1.5} />
        <path d="M746 801L762 793V809Z" fill="#5c9cf0" stroke="#e6eef9" strokeWidth={1.2} />
        <path d="M782 801L766 793V809Z" fill="#5c9cf0" stroke="#e6eef9" strokeWidth={1.2} />
        <path d="M793.5 800a6.5 6.5 0 0 1 11 -5" fill="none" stroke="#3c74d0" strokeWidth={3.4} />
        <path d="M808 790.5v8h-8Z" fill="#3c74d0" />
        <path d="M806.5 802a6.5 6.5 0 0 1 -11 5" fill="none" stroke="#3c74d0" strokeWidth={3.4} />
        <path d="M792 811.5v-8h8Z" fill="#3c74d0" />
      </g>

      {/* call-outs */}
      {redArrows.map(([fd, fv, td, tv], i) => {
        const fx = x(fd), fy = y(fv), tx = x(td), ty = y(tv);
        const arms = armPoints(fx, fy, tx, ty, 60, 24);
        return (
          <g key={i} stroke="#ff0000" fill="none">
            <line x1={fx} y1={fy} x2={tx - (tx - fx) * 0.06} y2={ty - (ty - fy) * 0.06} strokeWidth={14} strokeDasharray="54 38" />
            {arms.map((a, k) => (
              <line key={k} x1={a[0]} y1={a[1]} x2={tx} y2={ty} strokeWidth={15} strokeLinecap="round" />
            ))}
          </g>
        );
      })}
      {whiteArrows.map(([fd, fv, td, tv], i) => {
        const fx = x(fd), fy = y(fv), tx = x(td), ty = y(tv);
        const arms = armPoints(fx, fy, tx, ty, i === 0 ? 18 : 25, 26);
        return (
          <g key={i} stroke="#ffffff" fill="none" strokeWidth={5} strokeLinecap="round">
            <line x1={fx} y1={fy} x2={tx} y2={ty} />
            <polyline points={`${arms[0][0]},${arms[0][1]} ${tx},${ty} ${arms[1][0]},${arms[1][1]}`} strokeLinejoin="round" />
          </g>
        );
      })}
      {calloutBox.map(([d0, v0, d1, v1], i) => (
        <g key={i}>
          <rect x={x(d0)} y={y(v0)} width={x(d1) - x(d0)} height={y(v1) - y(v0)} fill="#ffffff" />
          <text x={x(d0) + 21} y={y(v0) + 57} fontFamily={ARIAL} fontSize={48} fill="#000">{calloutText[i]}</text>
        </g>
      ))}

      {/* caption band */}
      <rect x={7.5} y={809.5} width={W - 9} height={70} fill="#eeece1" stroke="#2f5496" strokeWidth={1.5} />
      <text x={27} y={857} fontFamily={ARIAL} fontSize={37} fill="#ff0000">Green plot – Vibration</text>
      <text x={603} y={857} fontFamily={ARIAL} fontSize={37} fill="#ff0000">Black, White, Red &amp; Blue plots – Process parameters</text>
    </svg>
  );
};

export default App;
